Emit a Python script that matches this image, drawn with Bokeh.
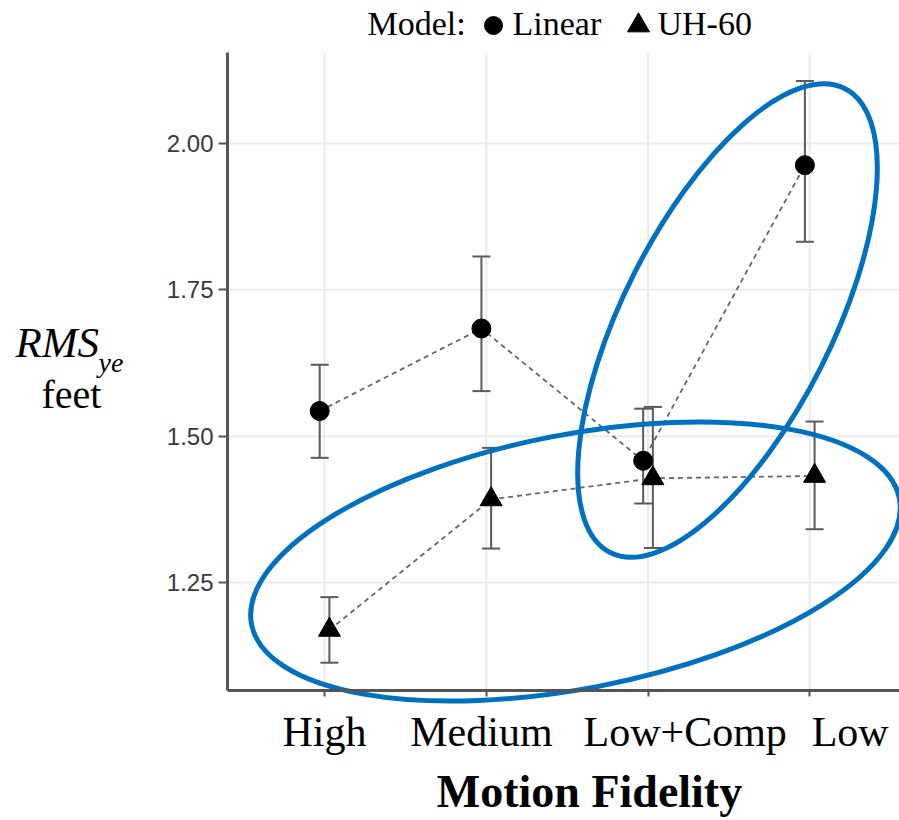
import numpy as np
from bokeh.plotting import figure
from bokeh.models import Range1d, FixedTicker, Label, PrintfTickFormatter, ColumnDataSource
from bokeh.embed import file_html
from bokeh.resources import INLINE

# ---- data -------------------------------------------------------------
categories = ["High", "Medium", "Low+Comp", "Low"]

linear_mean = [1.543, 1.684, 1.458, 1.963]
linear_lower = [1.463, 1.577, 1.385, 1.832]
linear_upper = [1.622, 1.807, 1.547, 2.107]

uh60_mean = [1.169, 1.392, 1.428, 1.432]
uh60_lower = [1.113, 1.308, 1.309, 1.341]
uh60_upper = [1.225, 1.480, 1.550, 1.525]

y_ticks = [1.25, 1.50, 1.75, 2.00]

# ---- geometry -----------------------------------------------------------
WIDTH, HEIGHT = 899, 820
AX_L, AX_T, AX_B = 227, 52, 690          # pixel edges of the plotting area
X_AX0, X_AX1 = 0.4, 4.555                # data extent of the plotting area
Y_AX0, Y_AX1 = 1.0655, 2.1555
PX_X = (WIDTH - AX_L) / (X_AX1 - X_AX0)
PX_Y = (AX_B - AX_T) / (Y_AX1 - Y_AX0)


def cx(px):
    """canvas pixel column -> data x"""
    return X_AX0 + (px - AX_L) / PX_X


def cy(py):
    """canvas pixel row -> data y"""
    return Y_AX1 - (py - AX_T) / PX_Y


DODGE = 0.03
pos = np.arange(1, len(categories) + 1, dtype=float)
label_shift = [0.0, -0.03, 0.23, 0.25]
label_pos = [float(a + s) for a, s in zip(pos, label_shift)]

lin = ColumnDataSource(dict(x=pos - DODGE, y=linear_mean, lo=linear_lower, hi=linear_upper))
uh = ColumnDataSource(dict(x=pos + DODGE, y=uh60_mean, lo=uh60_lower, hi=uh60_upper))

# the frame covers the whole canvas; axes are pinned inside it
p = figure(width=WIDTH, height=HEIGHT, output_backend="svg", toolbar_location=None,
           x_range=Range1d(cx(0), cx(WIDTH)), y_range=Range1d(cy(HEIGHT), cy(0)),
           min_border=0, min_border_left=0, min_border_right=0,
           min_border_top=0, min_border_bottom=0)
p.outline_line_color = None
p.background_fill_color = "white"
p.border_fill_color = "white"
p.grid.visible = False

AXIS_COLOR = "#555555"
SERIF = "Liberation Serif"

# ---- axes -----------------------------------------------------------------
xa = p.xaxis[0]
xa.fixed_location = Y_AX0
xa.bounds = (X_AX0, X_AX1)
xa.ticker = FixedTicker(ticks=label_pos, minor_ticks=list(pos))
xa.major_label_overrides = {lp: name for lp, name in zip(label_pos, categories)}
xa.major_tick_line_color = None
xa.major_tick_out = 6
xa.major_tick_in = 0
xa.minor_tick_in = 0
xa.minor_tick_out = 6
xa.minor_tick_line_color = AXIS_COLOR
xa.minor_tick_line_width = 2
xa.axis_line_color = AXIS_COLOR
xa.axis_line_width = 3
xa.major_label_text_font = SERIF
xa.major_label_text_font_size = "42px"
xa.major_label_text_color = "black"
xa.major_label_standoff = 12

ya = p.yaxis[0]
ya.fixed_location = X_AX0
ya.bounds = (Y_AX0, Y_AX1)
ya.ticker = FixedTicker(ticks=y_ticks)
ya.formatter = PrintfTickFormatter(format="%.2f")
ya.axis_line_color = AXIS_COLOR
ya.axis_line_width = 3
ya.major_tick_line_color = AXIS_COLOR
ya.major_tick_line_width = 2
ya.major_tick_out = 9
ya.major_tick_in = 0
ya.minor_tick_line_color = None
ya.major_label_text_font = "Liberation Sans"
ya.major_label_text_font_size = "24px"
ya.major_label_text_color = "#3a3a3a"
ya.major_label_standoff = 5

# ---- grid lines inside the plotting area -----------------------------------
GRID = dict(line_color="#ebebeb", line_width=2)
p.segment(x0=list(pos), y0=Y_AX0, x1=list(pos), y1=Y_AX1, **GRID)
p.segment(x0=X_AX0, y0=y_ticks, x1=X_AX1, y1=y_ticks, **GRID)

# ---- error bars -------------------------------------------------------------
BAR = "#5a5a5a"
for src in (lin, uh):
    p.segment(x0="x", y0="lo", x1="x", y1="hi", source=src, line_color=BAR, line_width=2)
    p.scatter("x", "lo", source=src, marker="dash", size=18, line_color=BAR, line_width=2)
    p.scatter("x", "hi", source=src, marker="dash", size=18, line_color=BAR, line_width=2)

# ---- dashed connectors and points --------------------------------------------
p.line("x", "y", source=lin, line_color="#666666", line_width=1.8, line_dash="5 4")
p.line("x", "y", source=uh, line_color="#666666", line_width=1.8, line_dash="5 4")
p.scatter("x", "y", source=lin, marker="circle", size=19, fill_color="black", line_color="black")
p.scatter("x", "y", source=uh, marker="triangle", size=22, fill_color="black", line_color="black")

# ---- highlight rings ---------------------------------------------------------
RING = "#0070c0"
p.ellipse(x=[cx(727), cx(575)], y=[cy(320), cy(561)], width=[520, 660], height=[209, 254],
          angle=[np.radians(63.2), np.radians(11.0)], width_units="screen",
          height_units="screen", fill_color=None, line_color=RING, line_width=5)


# ---- text -----------------------------------------------------------------
def text(px, py, s, size, align="left", style="normal"):
    """place a label with its baseline at canvas pixel (px, py)"""
    lift = 0.35 * size  # the svg text anchor sits below the alphabetic baseline
    p.add_layout(Label(x=cx(px), y=cy(py - lift), text=s, text_font=SERIF,
                       text_font_size=f"{size}px", text_font_style=style,
                       text_align=align, text_baseline="alphabetic",
                       text_color="black"))


# legend row
text(367, 35, "Model:", 34)
p.scatter([cx(493)], [cy(25)], marker="circle", size=18, fill_color="black", line_color="black")
text(512, 35, "Linear", 34)
p.scatter([cx(638)], [cy(25)], marker="triangle", size=22, fill_color="black", line_color="black")
text(657, 35, "UH-60", 34)

# y axis title
text(15, 357, "RMS", 43, style="italic")
text(98, 372, "ye", 28, style="italic")
text(71, 408, "feet", 40, align="center")

# x axis title
text(589, 807, "Motion Fidelity", 46, align="center", style="bold")

open("out.html", "w").write(file_html(p, INLINE))
